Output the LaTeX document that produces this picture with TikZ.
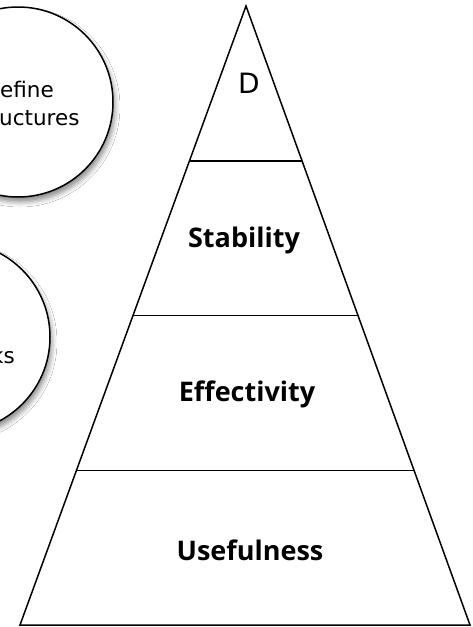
\documentclass[tikz,border=0pt]{standalone}
\usepackage{fontspec}
\setmainfont{DejaVu Sans}
\newfontfamily\lblfont{Open Sans}
\usetikzlibrary{calc,shadows.blur}
\begin{document}
\begin{tikzpicture}[x=1pt,y=-1pt,
  pyr/.style={draw=black,line width=1.5pt},
  bubble/.style={circle,draw=black,line width=1.5pt,fill=white,minimum size=190pt,inner sep=0pt,
    blur shadow={shadow xshift=2pt,shadow yshift=-5pt,shadow blur radius=5pt,shadow opacity=45}},
  lbl/.style={anchor=base,inner sep=0pt,font=\lblfont\bfseries\fontsize{27}{30}\selectfont},
  ctext/.style={anchor=base west,inner sep=0pt,font=\fontsize{21.5}{28}\selectfont},
  toptext/.style={anchor=base,inner sep=0pt,font=\fontsize{28}{32}\selectfont}
]
\useasboundingbox[fill=white] (0,0) rectangle (473,627);
% circles on the left
\node[bubble] (c1) at (18,102) {};
\node[bubble] (c2) at (-45,337) {};
\node[ctext] (c1a) at (0,97) {efine};
\node[ctext] (c1b) at (-1,125) {uctures};
\node[ctext,anchor=base east] (c2a) at (15,363) {ks};
% pyramid
\coordinate (apex) at (246,6);
\coordinate (bl) at (20,625);
\coordinate (br) at (470,625);
\draw[pyr] (apex) -- (br) -- (bl) -- cycle;
\coordinate (l1) at ($(apex)!0.25!(bl)$);
\coordinate (r1) at ($(apex)!0.25!(br)$);
\coordinate (l2) at ($(apex)!0.5!(bl)$);
\coordinate (r2) at ($(apex)!0.5!(br)$);
\coordinate (l3) at ($(apex)!0.75!(bl)$);
\coordinate (r3) at ($(apex)!0.75!(br)$);
\draw[pyr] (l1) -- (r1);
\draw[pyr] (l2) -- (r2);
\draw[pyr] (l3) -- (r3);
% labels
\node[toptext] (d) at (249,93) {D};
\node[lbl] (stab) at (244,247) {Stability};
\node[lbl] (eff) at (247,401.5) {Effectivity};
\node[lbl] (use) at (250,560) {Usefulness};
\end{tikzpicture}
\end{document}
